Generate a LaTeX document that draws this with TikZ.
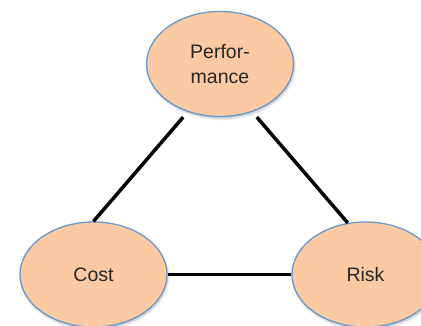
\documentclass[tikz,border=0pt]{standalone}
\usepackage{fontspec}
\setmainfont{Liberation Sans}
\usepackage{tikz}
\usetikzlibrary{shapes.geometric,shadows.blur}

\definecolor{peach}{RGB}{251,202,162}
\definecolor{rim}{RGB}{105,152,206}

\begin{document}
\begin{tikzpicture}[x=1pt,y=1pt,
  goal/.style={ellipse,draw=rim,line width=1.3pt,fill=peach,minimum width=147pt,minimum height=105pt,inner sep=0pt,align=center,
    text=black!85,font=\fontsize{19.5}{25}\selectfont,blur shadow={shadow xshift=1pt,shadow yshift=-2pt,shadow blur steps=6,shadow opacity=25}},
  link/.style={line width=3.5pt}]
\useasboundingbox (0,0) rectangle (421,325);
\node[goal] (perf) at (220,261) {Perfor-\\mance};
\node[goal] (cost) at (93.5,50.5) {Cost};
\node[goal] (risk) at (365.5,50.5) {Risk};
\draw[link,shorten <=7pt] (perf.236)--(cost.north); \draw[link,shorten <=7pt] (perf.304)--(risk.109); \draw[link] (cost.east)--(risk.west);
\end{tikzpicture}
\end{document}
